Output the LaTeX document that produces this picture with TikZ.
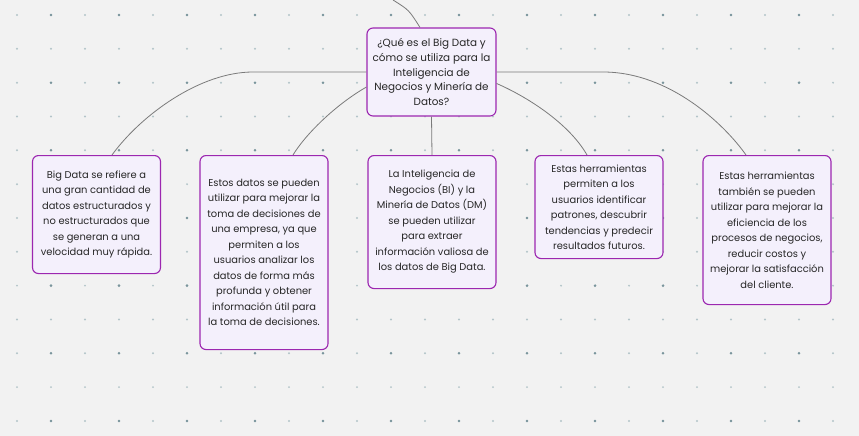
\documentclass[tikz,border=0pt]{standalone}
\usepackage{fontspec}
\setmainfont{Poppins}
\usetikzlibrary{positioning}
\usetikzlibrary{calc}
\definecolor{bgcol}{HTML}{F2F2F2}
\definecolor{boxline}{HTML}{9C27B0}
\definecolor{boxfill}{HTML}{F4F0FC}
\definecolor{textcol}{HTML}{262626}
\definecolor{linkcol}{HTML}{7A7A7A}
\definecolor{dotlight}{HTML}{B3C4C9}
\definecolor{dotdark}{HTML}{7A959C}
\tikzset{box/.style = {draw=boxline, fill=boxfill, rounded corners=6, line width=1.1,
    minimum width=128, inner sep=0, align=center, text=textcol,
    font=\fontsize{9.9}{15.5}\selectfont}}
\tikzset{link/.style = {draw=linkcol, line width=0.8}}
\begin{document}
\begin{tikzpicture}[x=1pt, y=-1pt]
      \fill [bgcol] (0, 0) rectangle (859, 436);
      \useasboundingbox (0, 0) rectangle (859, 436);
      % grid of dots
      \foreach \j in {0,...,12}
        \foreach \k in {0,...,24}
          \fill [dotlight] (17+34*\k, 15+33.83*\j) circle [radius=1.1];
      \foreach \j in {0,2,...,12}
        \foreach \k in {1,3,...,23}
          \fill [dotdark] (17+34*\k, 15+33.83*\j) circle [radius=1.4];
      % boxes
      \node [box, minimum width=129, minimum height=88, font=\fontsize{10.4}{14.7}\selectfont] (q) at (431.5, 72)
        {¿Qué es el Big Data y\\cómo se utiliza para la\\Inteligencia de\\Negocios y Minería de\\Datos?};
      \node [box, anchor=north, minimum height=118] (bd) at (96.5, 155)
        {Big Data se refiere a\\una gran cantidad de\\datos estructurados y\\no estructurados que\\se generan a una\\velocidad muy rápida.};
      \node [box, anchor=north, minimum height=194] (uso) at (264, 155)
        {Estos datos se pueden\\utilizar para mejorar la\\toma de decisiones de\\una empresa, ya que\\permiten a los\\usuarios analizar los\\datos de forma más\\profunda y obtener\\información útil para\\la toma de decisiones.};
      \node [box, anchor=north, minimum height=133] (bi) at (432, 155)
        {La Inteligencia de\\Negocios (BI) y la\\Minería de Datos (DM)\\se pueden utilizar\\para extraer\\información valiosa de\\los datos de Big Data.};
      \node [box, anchor=north, minimum height=103] (pat) at (599, 155)
        {Estas herramientas\\permiten a los\\usuarios identificar\\patrones, descubrir\\tendencias y predecir\\resultados futuros.};
      \node [box, anchor=north, minimum height=149] (efi) at (767, 155)
        {Estas herramientas\\también se pueden\\utilizar para mejorar la\\eficiencia de los\\procesos de negocios,\\reducir costos y\\mejorar la satisfacción\\del cliente.};
      % connectors
      \coordinate (top) at (393, 0);
      \coordinate (kl) at (253, 72);
      \coordinate (kr) at (603, 72);
      \draw [link] (top) .. controls (409, 10) .. ($(q.north)+(-11.5, 0)$);
      \draw [link] (q.west) -- (kl) .. controls (200, 72) and (141, 115) .. ($(bd.north)+(15.5, 0)$);
      \draw [link] (q.193) .. controls (335, 105) and (305, 135) .. ($(uso.north)+(29, 0)$);
      \draw [link] (q.south) -- (bi.north);
      \draw [link] (q.350) .. controls (530, 98) and (570, 125) .. ($(pat.north)+(-12, 0)$);
      \draw [link] (q.east) -- (kr) .. controls (670, 72) and (725, 125) .. ($(efi.north)+(-21, 0)$);
    \end{tikzpicture}
\end{document}
